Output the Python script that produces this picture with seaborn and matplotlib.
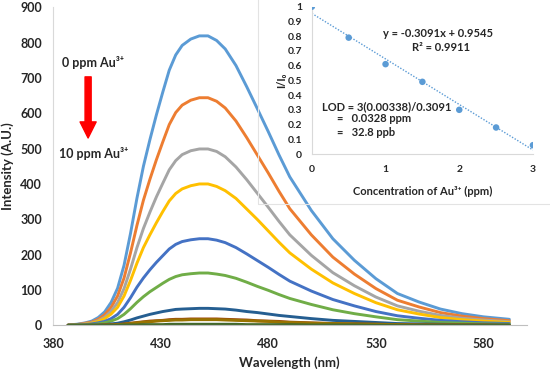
import matplotlib
matplotlib.use('Agg')
import matplotlib.pyplot as plt
from matplotlib.patches import Rectangle
import numpy as np
import pandas as pd
import seaborn as sns

sns.set_style('white')
plt.rcParams['font.family'] = ['Lato', 'DejaVu Sans']
plt.rcParams['font.weight'] = 'bold'

# emission spectra
wavelength = [387, 391, 395, 398, 401, 404, 407, 410, 413, 416,
              419, 422, 425, 428, 431, 434, 437, 440, 444, 448,
              452, 456, 460, 465, 470, 475, 480, 485, 490, 500,
              510, 520, 530, 540, 550, 560, 570, 580, 592]
i_0 = [1, 3, 7, 12, 22, 38, 65, 105, 170, 260,
       360, 450, 525, 595, 660, 722, 765, 792, 810, 819,
       819, 806, 782, 735, 675, 612, 548, 482, 420, 325,
       245, 184, 132, 90, 66, 46, 33, 24, 17]
i_05 = [1, 2, 6, 9, 17, 30, 51, 83, 134, 205,
        283, 354, 413, 468, 519, 568, 602, 623, 637, 644,
        644, 634, 615, 578, 531, 481, 431, 379, 330, 256,
        193, 145, 104, 71, 52, 36, 26, 19, 13]
i_1 = [1, 2, 4, 7, 13, 23, 40, 64, 104, 159,
       220, 274, 320, 363, 402, 440, 466, 483, 494, 499,
       499, 492, 477, 448, 412, 373, 334, 294, 256, 198,
       149, 112, 80, 55, 40, 28, 20, 15, 10]
i_15 = [0, 1, 3, 6, 11, 19, 32, 51, 83, 127,
        176, 220, 256, 290, 322, 352, 373, 386, 395, 400,
        400, 393, 381, 359, 329, 299, 267, 235, 205, 159,
        120, 90, 64, 44, 32, 22, 16, 12, 8]
i_2 = [0, 1, 2, 4, 7, 11, 19, 31, 51, 78,
       108, 134, 157, 178, 197, 216, 229, 237, 242, 245,
       245, 241, 234, 220, 202, 183, 164, 144, 125, 97,
       73, 55, 39, 27, 20, 14, 10, 7, 5]
i_25 = [0, 1, 1, 2, 4, 7, 12, 19, 31, 47,
        65, 81, 95, 107, 119, 130, 138, 143, 146, 148,
        148, 145, 141, 133, 122, 110, 99, 87, 76, 59,
        44, 33, 24, 16, 12, 8, 6, 4, 3]
i_3 = [0, 0, 0, 1, 1, 2, 4, 6, 10, 15,
       21, 26, 31, 35, 39, 42, 45, 46, 47, 48,
       48, 47, 46, 43, 39, 36, 32, 28, 25, 19,
       14, 11, 8, 5, 4, 3, 2, 1, 1]
i_5 = [0, 0, 0, 0, 0, 1, 1, 2, 4, 6,
       8, 10, 12, 13, 14, 16, 17, 17, 18, 18,
       18, 18, 17, 16, 15, 13, 12, 11, 9, 7,
       5, 4, 3, 2, 1, 1, 1, 1, 0]
i_8 = [0, 0, 0, 0, 0, 1, 1, 2, 3, 5,
       7, 9, 10, 12, 13, 14, 15, 15, 16, 16,
       16, 16, 15, 14, 13, 12, 11, 9, 8, 6,
       5, 4, 3, 2, 1, 1, 1, 0, 0]
i_10 = [0, 0, 0, 0, 0, 0, 0, 0, 1, 1,
        1, 2, 2, 2, 2, 3, 3, 3, 3, 3,
        3, 3, 3, 3, 2, 2, 2, 2, 2, 1,
        1, 1, 0, 0, 0, 0, 0, 0, 0]
series = {'0 ppm': i_0, '0.5 ppm': i_05, '1 ppm': i_1, '1.5 ppm': i_15, '2 ppm': i_2,
          '2.5 ppm': i_25, '3 ppm': i_3, '5 ppm': i_5, '8 ppm': i_8, '10 ppm': i_10}
colors = ['#5B9BD5', '#ED7D31', '#A5A5A5', '#FFC000', '#4472C4', '#70AD47',
          '#255E91', '#9E480E', '#997300', '#43682B']

# inset: I/I0 vs concentration
conc = [0, 0.5, 1, 1.5, 2, 2.5, 3]
ratio = [1.0, 0.79, 0.61, 0.49, 0.30, 0.18, 0.06]
slope, intercept = -0.3091, 0.9545

rows = []
for name, vals in series.items():
    for w, v in zip(wavelength, vals):
        rows.append((name, w, v))
df = pd.DataFrame(rows, columns=['conc', 'wl', 'intensity'])

fig = plt.figure(figsize=(5.5, 3.72), dpi=100)
ax = fig.add_axes([0.0964, 0.1255, 0.861, 0.855])
sns.lineplot(data=df, x='wl', y='intensity', hue='conc', palette=colors,
             linewidth=2.1, legend=False, ax=ax)
ax.set_xlim(380, 600)
ax.set_ylim(0, 900)
ax.set_xticks([380, 430, 480, 530, 580])
ax.set_yticks(range(0, 901, 100))
ax.tick_params(length=0, labelsize=9)
ax.tick_params(axis='x', pad=9)
ax.tick_params(axis='y', pad=8)
for lab in ax.get_xticklabels() + ax.get_yticklabels():
    lab.set_fontweight('bold')
for s in ['top', 'right']:
    ax.spines[s].set_visible(False)
ax.spines['left'].set_color('#D9D9D9')
ax.spines['bottom'].set_color('#BFBFBF')
ax.set_xlabel('Wavelength (nm)', fontsize=9.5, fontweight='bold')
ax.set_ylabel('Intensity (A.U.)', fontsize=9.5, fontweight='bold', va='center')
ax.xaxis.set_label_coords(0.5, -0.097)
ax.yaxis.set_label_coords(-0.095, 0.5)

ax.text(398.6, 745, '0 ppm Au³⁺', fontsize=9, fontweight='bold', ha='center', va='center')
ax.text(399, 485, '10 ppm Au³⁺', fontsize=9, fontweight='bold', ha='center', va='center')
ax.annotate('', xy=(396.3, 530), xytext=(396.3, 703),
            arrowprops=dict(arrowstyle='simple,head_width=0.58,head_length=0.58,tail_width=0.22',
                            color='#FF0000', mutation_scale=20, shrinkA=0, shrinkB=0))

# inset frame
fig.patches.append(Rectangle((0.469, 0.4516), 0.6, 0.6, transform=fig.transFigure,
                             fill=False, edgecolor='#E3E3E3', linewidth=0.8, zorder=0))

ins = fig.add_axes([0.567, 0.586, 0.402, 0.396])
ins.patch.set_alpha(0)
xfit = np.array([0, 3])
ins.plot(xfit, slope * xfit + intercept, linestyle=(0, (1, 1.2)), color='#5B9BD5', linewidth=1)
sns.scatterplot(x=conc, y=ratio, color='#5B9BD5', s=22, edgecolor='none', ax=ins, zorder=3)
ins.set_xlim(0, 3)
ins.set_ylim(0, 1)
ins.set_xticks([0, 1, 2, 3])
ins.set_xticklabels(['0', '1', '2', '3'])
yt = [round(0.1 * i, 1) for i in range(11)]
ins.set_yticks(yt)
ins.set_yticklabels(['0', '0.1', '0.2', '0.3', '0.4', '0.5', '0.6', '0.7', '0.8', '0.9', '1'])
ins.tick_params(length=0, labelsize=7.5)
ins.tick_params(axis='x', pad=8)
ins.tick_params(axis='y', pad=7)
for lab in ins.get_xticklabels() + ins.get_yticklabels():
    lab.set_fontweight('bold')
for s in ['top', 'right']:
    ins.spines[s].set_visible(False)
ins.spines['left'].set_color('#D9D9D9')
ins.spines['bottom'].set_color('#D9D9D9')
ins.set_xlabel('Concentration of Au³⁺ (ppm)', fontsize=8, fontweight='bold')
ins.set_ylabel('I/I₀', fontsize=8, fontweight='bold', va='center')
ins.xaxis.set_label_coords(0.5, -0.217)
ins.yaxis.set_label_coords(-0.136, 0.5)

ins.text(1.71, 0.82, 'y = -0.3091x + 0.9545', fontsize=8, fontweight='bold', ha='center', va='center')
ins.text(1.75, 0.726, 'R² = 0.9911', fontsize=8, fontweight='bold', ha='center', va='center')
ins.text(0.136, 0.319, 'LOD = 3(0.00338)/0.3091', fontsize=8, fontweight='bold', va='center')
ins.text(0.34, 0.244, '=   0.0328 ppm', fontsize=8, fontweight='bold', va='center')
ins.text(0.34, 0.143, '=   32.8 ppb', fontsize=8, fontweight='bold', va='center')

fig.savefig('out.png', dpi=100)
